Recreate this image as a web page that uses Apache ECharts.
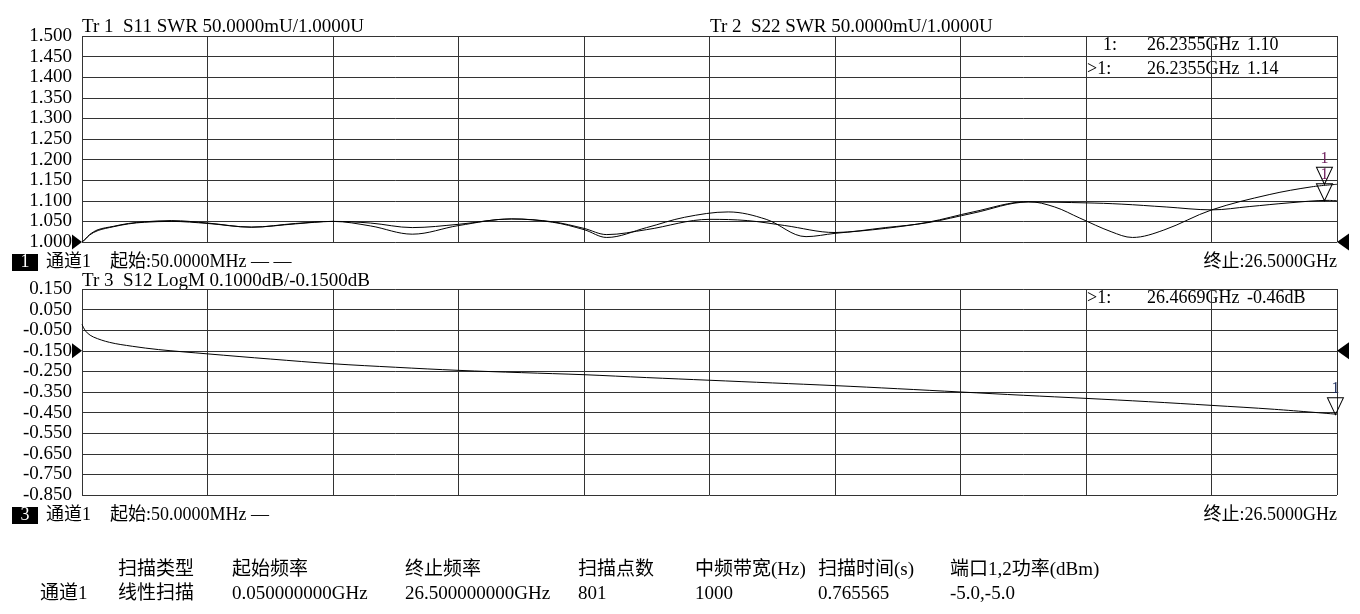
<!DOCTYPE html>
<html>
<head>
<meta charset="utf-8">
<script src="https://cdn.jsdelivr.net/npm/echarts@6/dist/echarts.min.js"></script>
<style>
html,body{margin:0;padding:0;background:#fff;}
#chart{width:1360px;height:614px;}
</style>
</head>
<body>
<div id="chart"></div>
<script>
// ---------- DATA ----------
// Tr 1 : S11 SWR (frequency in GHz, SWR)
const s11Freq = [0.05,0.13,0.21,0.39,0.71,1.03,1.37,1.93,2.70,3.62,4.55,5.34,6.13,7.01,7.99,9.10,9.97,10.63,11.11,11.95,13.28,14.07,14.86,15.92,16.98,17.88,18.83,19.99,21.21,21.95,22.90,23.86,24.65,25.49,26.31,26.50];
const s11Swr  = [1.000,1.008,1.018,1.030,1.038,1.045,1.049,1.052,1.046,1.036,1.044,1.050,1.046,1.035,1.043,1.056,1.049,1.033,1.018,1.030,1.055,1.052,1.040,1.023,1.035,1.047,1.070,1.097,1.095,1.092,1.085,1.078,1.086,1.095,1.101,1.100];
// Tr 2 : S22 SWR
const s22Freq = [0.05,0.13,0.21,0.39,0.71,1.03,1.37,1.93,2.70,3.62,4.55,5.34,6.13,7.01,7.99,9.10,9.97,10.63,11.11,11.95,12.75,13.67,14.47,15.31,15.92,16.98,17.88,18.83,19.99,20.55,21.08,21.74,22.19,22.85,23.86,25.07,25.97,26.50];
const s22Swr  = [1.000,1.008,1.017,1.028,1.037,1.044,1.048,1.050,1.045,1.036,1.045,1.050,1.039,1.019,1.040,1.056,1.048,1.030,1.011,1.035,1.060,1.073,1.055,1.013,1.021,1.033,1.048,1.073,1.098,1.085,1.058,1.025,1.011,1.029,1.078,1.115,1.134,1.140];
// Tr 3 : S12 LogM (dB)
const s12Freq = [0.05,0.10,0.16,0.29,0.63,1.11,1.66,2.70,4.02,5.34,6.66,7.99,9.31,10.63,11.95,13.28,14.60,15.92,17.24,18.57,19.89,21.21,22.53,23.86,25.18,26.50];
const s12LogM = [-0.022,-0.045,-0.063,-0.083,-0.109,-0.128,-0.144,-0.165,-0.190,-0.213,-0.230,-0.245,-0.256,-0.266,-0.280,-0.293,-0.306,-0.319,-0.334,-0.350,-0.366,-0.381,-0.397,-0.415,-0.434,-0.458];

// tick labels (10 divisions each)
const topTickLabels = ['1.000','1.050','1.100','1.150','1.200','1.250','1.300','1.350','1.400','1.450','1.500'];
const bottomTickLabels = ['-0.850','-0.750','-0.650','-0.550','-0.450','-0.350','-0.250','-0.150','-0.050','0.050','0.150'];

// axis ranges
const freqStart = 0.05, freqStop = 26.5;
const topMin = 1.0, topMax = 1.5, topRef = 1.0;
const botMin = -0.85, botMax = 0.15, botRef = -0.15;

// markers
const markerS11 = [26.2355, 1.10];
const markerS22 = [26.2355, 1.14];
const markerS12 = [26.4669, -0.46];

// header / readout texts
const traceTitles = ['Tr 1  S11 SWR 50.0000mU/1.0000U', 'Tr 2  S22 SWR 50.0000mU/1.0000U', 'Tr 3  S12 LogM 0.1000dB/-0.1500dB'];
const readoutTop = [['1:', '26.2355GHz', '1.10'], ['>1:', '26.2355GHz', '1.14']];
const readoutBottom = [['>1:', '26.4669GHz', '-0.46dB']];
const channelStartTexts = ['起始:50.0000MHz — —', '起始:50.0000MHz —'];
const stopText = '终止:26.5000GHz';
const tableHeaders = ['扫描类型','起始频率','终止频率','扫描点数','中频带宽(Hz)','扫描时间(s)','端口1,2功率(dBm)'];
const tableRow = ['线性扫描','0.050000000GHz','26.500000000GHz','801','1000','0.765565','-5.0,-5.0'];
const tableRowName = '通道1';

// ---------- CHART ----------
const FONT = '"Liberation Serif", "Noto Sans CJK SC", serif';
const GRID_COLOR = '#333';
const chart = echarts.init(document.getElementById('chart'), null, {renderer: 'canvas'});

function zip(a, b) { return a.map((v, i) => [v, b[i]]); }

const refRight = 'path://M0,0 L10,7 L0,14 Z';
const refLeft = 'path://M10,0 L0,7 L10,14 Z';
const downTri = 'path://M0,0 L16,0 L8,17 Z';

function refPoints(ref) {
  return [
    {coord: [freqStart, ref], symbol: refRight, symbolSize: [10, 15], symbolOffset: [-5, 0],
     itemStyle: {color: '#000', borderWidth: 0}, label: {show: false}},
    {coord: [freqStop, ref], symbol: refLeft, symbolSize: [12, 17], symbolOffset: [6, 0],
     itemStyle: {color: '#000', borderWidth: 0}, label: {show: false}}
  ];
}
function markerPoint(m, color) {
  return {coord: m, symbol: downTri, symbolSize: [16, 17], symbolOffset: [0, -8.5],
    itemStyle: {color: 'rgba(255,255,255,0)', borderColor: '#000', borderWidth: 1},
    label: {show: true, formatter: '1', position: 'top', distance: 0, color: color,
      fontFamily: FONT, fontSize: 16}};
}

function divAxis(gridIndex, isY, labels) {
  const ax = {
    gridIndex: gridIndex, type: 'value', min: 0, max: 10, interval: 1,
    position: isY ? 'left' : 'bottom',
    axisLine: {show: false}, axisTick: {show: false},
    splitLine: {show: true, showMinLine: true, showMaxLine: true, lineStyle: {color: GRID_COLOR, width: 1}},
    axisLabel: {show: false}
  };
  if (isY) {
    ax.axisLabel = {show: true, margin: 10, color: '#000', fontFamily: FONT, fontSize: 19,
      formatter: v => labels[Math.round(v)]};
  }
  return ax;
}

const texts = [];
function addText(x, y, str, opts) {
  texts.push({
    type: 'text', x: x, y: y, silent: true,
    style: Object.assign({text: str, x: 0, y: 0, fill: '#000', font: '18px ' + FONT,
      textVerticalAlign: 'middle', textAlign: 'left'}, opts || {})
  });
}
const F19 = {font: '19px ' + FONT};
addText(82, 27, traceTitles[0], F19);
addText(710, 27, traceTitles[1], F19);
addText(82, 281, traceTitles[2], F19);
readoutTop.forEach((r, i) => {
  const y = 45 + i * 24;
  addText(r[0].startsWith('>') ? 1087 : 1103, y, r[0]);
  addText(1147, y, r[1]);
  addText(1247, y, r[2]);
});
readoutBottom.forEach((r) => {
  const y = 298;
  addText(1087, y, r[0]);
  addText(1147, y, r[1]);
  addText(1247, y, r[2]);
});
[[262, '1', channelStartTexts[0]], [515, '3', channelStartTexts[1]]].forEach(([y, n, s]) => {
  texts.push({type: 'rect', x: 12, y: y - 8, shape: {x: 0, y: 0, width: 26, height: 17}, style: {fill: '#000'}, silent: true});
  addText(25, y + 0.5, n, {fill: '#fff', textAlign: 'center'});
  addText(46, y, '通道1');
  addText(110, y, s);
  addText(1337, y, stopText, {textAlign: 'right'});
});
const colX = [118, 232, 405, 578, 695, 818, 950];
tableHeaders.forEach((h, i) => addText(colX[i], 570, h, F19));
addText(40, 594, tableRowName, F19);
tableRow.forEach((h, i) => addText(colX[i], 594, h, F19));

const option = {
  animation: false,
  backgroundColor: '#fff',
  grid: [
    {left: 82, top: 36, width: 1255, height: 206, containLabel: false, outerBoundsMode: 'none'},
    {left: 82, top: 289, width: 1255, height: 206, containLabel: false, outerBoundsMode: 'none'}
  ],
  xAxis: [
    {gridIndex: 0, type: 'value', min: freqStart, max: freqStop, show: false},
    divAxis(0, false),
    {gridIndex: 1, type: 'value', min: freqStart, max: freqStop, show: false},
    divAxis(1, false)
  ],
  yAxis: [
    {gridIndex: 0, type: 'value', min: topMin, max: topMax, show: false},
    divAxis(0, true, topTickLabels),
    {gridIndex: 1, type: 'value', min: botMin, max: botMax, show: false},
    divAxis(1, true, bottomTickLabels)
  ],
  series: [
    {type: 'line', name: 'S11', xAxisIndex: 0, yAxisIndex: 0, data: zip(s11Freq, s11Swr),
     smooth: 0.35, showSymbol: false, lineStyle: {color: '#000', width: 1}, z: 3,
     markPoint: {animation: false, data: refPoints(topRef).concat([markerPoint(markerS11, '#6e1f5c')])}},
    {type: 'line', name: 'S22', xAxisIndex: 0, yAxisIndex: 0, data: zip(s22Freq, s22Swr),
     smooth: 0.35, showSymbol: false, lineStyle: {color: '#000', width: 1}, z: 3,
     markPoint: {animation: false, data: [markerPoint(markerS22, '#6e1f5c')]}},
    {type: 'line', name: 'S12', xAxisIndex: 2, yAxisIndex: 2, data: zip(s12Freq, s12LogM),
     smooth: 0.35, showSymbol: false, lineStyle: {color: '#000', width: 1}, z: 3,
     markPoint: {animation: false, data: refPoints(botRef).concat([markerPoint(markerS12, '#1a2a5a')])}}
  ],
  graphic: texts
};
chart.setOption(option);
</script>
</body>
</html>
